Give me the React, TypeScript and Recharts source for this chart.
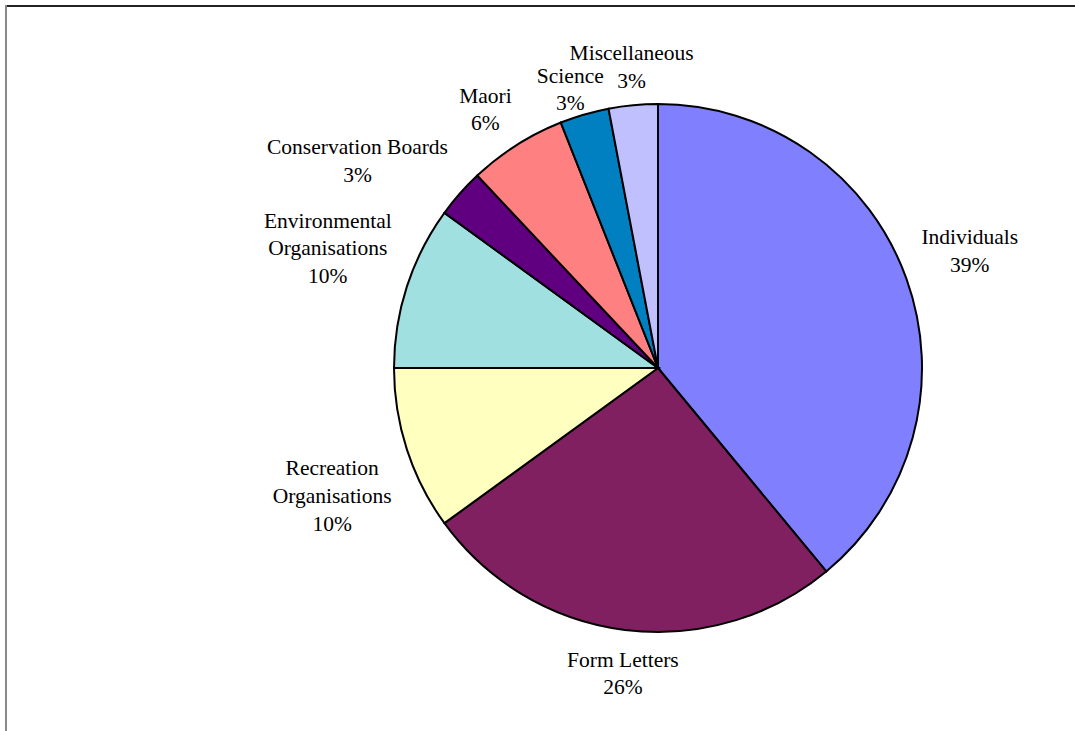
import React from 'react';
import { PieChart, Pie, Cell } from 'recharts';

// Submissions by type (percent of total)
const categories = [
  'Individuals',
  'Form Letters',
  'Recreation Organisations',
  'Environmental Organisations',
  'Conservation Boards',
  'Maori',
  'Science',
  'Miscellaneous',
];
const shares = [39, 26, 10, 10, 3, 6, 3, 3];
const sliceColors = ['#8080FF', '#802060', '#FFFFC0', '#A0E0E0', '#600080', '#FF8080', '#0080C0', '#C0C0FF'];

const W = 1075;
const H = 731;
const CX = 658;
const CY = 368;
const R = 264;
const FONT = "'Liberation Serif', 'Times New Roman', serif";
const FS = 21.5;
const LH = 27.7;
const GAP = 16;
const WRAP = 200;
const RAD = Math.PI / 180;

let measureCtx: CanvasRenderingContext2D | null = null;
function textWidth(s: string) {
  if (!measureCtx) measureCtx = document.createElement('canvas').getContext('2d');
  if (!measureCtx) return s.length * FS * 0.48;
  measureCtx.font = `${FS}px ${FONT}`;
  return measureCtx.measureText(s).width;
}

function wrapName(name: string) {
  const words = name.split(' ');
  const out: string[] = [];
  let cur = '';
  words.forEach((w) => {
    const next = cur ? cur + ' ' + w : w;
    if (cur && textWidth(next) > WRAP) {
      out.push(cur);
      cur = w;
    } else cur = next;
  });
  if (cur) out.push(cur);
  return out;
}

// excel-ish outside-end placement: box corner sits just off the rim
function basePlacement(cx: number, cy: number, r: number, midAngle: number, lines: string[]) {
  const ux = Math.cos(-midAngle * RAD);
  const uy = Math.sin(-midAngle * RAD);
  const widths = lines.map(textWidth);
  const a = Math.max(...widths) / 2;
  const b = (lines.length * LH) / 2;
  const fx = Math.sign(ux) * Math.min(1, Math.max(0, (Math.abs(ux) - 0.15) / 0.45));
  const fy = uy > 0 ? 1 : -0.8;
  return {
    x: cx + ux * (r + GAP) + a * fx,
    y: cy + uy * (r + GAP) + b * fy,
    widths,
  };
}

function lineBoxes(x: number, y: number, widths: number[]) {
  const top = y - (widths.length * LH) / 2;
  return widths.map((w, k) => {
    const c = top + (k + 0.5) * LH;
    return { x0: x - w / 2, x1: x + w / 2, y0: c - 0.45 * FS, y1: c + 0.45 * FS };
  });
}

const total = shares.reduce((s, v) => s + v, 0);

function buildLayout() {
  let acc = 0;
  const items = categories.map((name, i) => {
    const t = ((acc + shares[i] / 2) / total) * 360;
    acc += shares[i];
    const lines = [...wrapName(name), `${Math.round((shares[i] / total) * 100)}%`];
    const p = basePlacement(CX, CY, R, 90 - t, lines);
    return { i, lines, fromTop: Math.min(t, 360 - t), x: p.x, y: p.y, widths: p.widths, dy: 0 };
  });
  const placed: typeof items = [];
  [...items]
    .sort((p, q) => p.fromTop - q.fromTop)
    .forEach((it) => {
      for (let n = 0; n < 40; n++) {
        let hit = 0;
        const mine = lineBoxes(it.x, it.y + it.dy, it.widths);
        for (const o of placed) {
          const theirs = lineBoxes(o.x, o.y + o.dy, o.widths);
          for (const m of mine)
            for (const b of theirs) {
              const ox = Math.min(m.x1, b.x1) - Math.max(m.x0, b.x0);
              const oy = Math.min(m.y1, b.y1) - Math.max(m.y0, b.y0);
              if (ox > 0 && oy > 0) {
                const dir = it.y + it.dy >= o.y + o.dy ? 1 : -1;
                hit = Math.max(Math.abs(hit), oy + 3) * dir;
              }
            }
        }
        if (!hit) break;
        it.dy += hit;
      }
      placed.push(it);
    });
  const byIndex: Record<number, { lines: string[]; dy: number }> = {};
  items.forEach((it) => (byIndex[it.i] = { lines: it.lines, dy: it.dy }));
  return byIndex;
}

const data = categories.map((name, i) => ({ name, value: shares[i] }));

export default function App() {
  const layout = React.useMemo(buildLayout, []);

  const renderLabel = (props: any) => {
    const { cx, cy, outerRadius, midAngle, index, percent } = props;
    const lines = [...layout[index].lines.slice(0, -1), `${Math.round(percent * 100)}%`];
    const p = basePlacement(cx, cy, outerRadius, midAngle, lines);
    const top = p.y + layout[index].dy - (lines.length * LH) / 2;
    return (
      <g key={`lbl-${index}`}>
        {lines.map((l, k) => (
          <text
            key={k}
            x={p.x}
            y={top + (k + 0.5) * LH}
            textAnchor="middle"
            dominantBaseline="central"
            style={{ fontFamily: FONT, fontSize: FS }}
            fill="#000"
          >
            {l}
          </text>
        ))}
      </g>
    );
  };

  return (
    <div style={{ position: 'absolute', left: 0, top: 0, width: W, height: H, background: '#fff', fontFamily: FONT }}>
      <PieChart width={W} height={H} margin={{ top: 0, right: 0, bottom: 0, left: 0 }}>
        <Pie
          data={data}
          dataKey="value"
          nameKey="name"
          cx={CX}
          cy={CY}
          outerRadius={R}
          startAngle={90}
          endAngle={-270}
          stroke="#000"
          strokeWidth={2}
          label={renderLabel}
          labelLine={false}
          isAnimationActive={false}
        >
          {data.map((d, i) => (
            <Cell key={d.name} fill={sliceColors[i]} />
          ))}
        </Pie>
      </PieChart>
      {/* chart frame, only top and left edges show */}
      <div style={{ position: 'absolute', left: 5, top: 5, width: W - 5, height: 2, background: '#222' }} />
      <div style={{ position: 'absolute', left: 5, top: 5, width: 2, height: H - 5, background: '#888' }} />
    </div>
  );
}
